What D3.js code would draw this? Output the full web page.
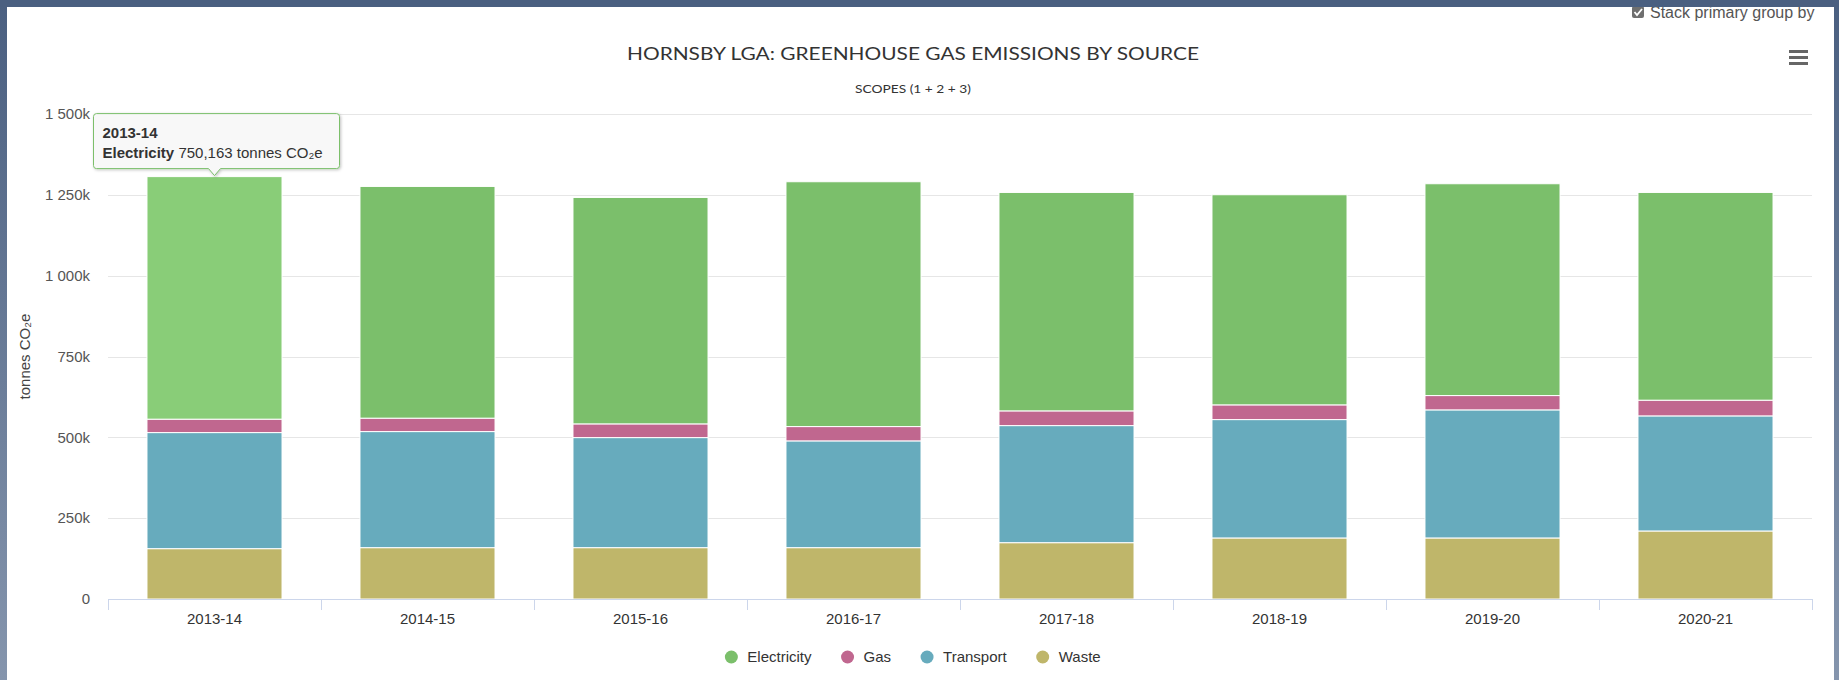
<!DOCTYPE html>
<html>
<head>
<meta charset="utf-8">
<script src="https://cdn.jsdelivr.net/npm/d3@7"></script>
<style>
  html, body { margin: 0; padding: 0; }
  body { width: 1839px; height: 680px; overflow: hidden; background: #4b6081; }
  svg { display: block; }
</style>
</head>
<body>
<div id="chart"></div>
<script>

// data
var categories = ["2013-14", "2014-15", "2015-16", "2016-17", "2017-18", "2018-19", "2019-20", "2020-21"];
var electricity = [750163, 716700, 700300, 757200, 675600, 649900, 655100, 642500];
var gas = [41500, 41500, 42400, 44300, 45500, 45500, 44300, 48600];
var transport = [359000, 359000, 340400, 330200, 362100, 366100, 396100, 355900];
var waste = [155700, 158800, 158800, 158800, 174200, 188800, 188800, 210400];
var yTicks = [0, 250000, 500000, 750000, 1000000, 1250000, 1500000];
var seriesNames = ["Electricity", "Gas", "Transport", "Waste"];
var hovered = {category: "2013-14", series: "Electricity"};

//Config
var W = 1839, H = 680;
var plotLeft = 108, plotRight = 1812, plotTop = 114, plotBottom = 599;
var centerX = 913;
var colors = {Electricity: "#7bbf6b", Gas: "#c0678f", Transport: "#67abbd", Waste: "#bfb66a"};
var hoverColors = {Electricity: "#89cd78", Gas: "#cc77a0", Transport: "#77bbcc", Waste: "#cdc57a"};
var font = "'Liberation Sans', Arial, sans-serif";

var rows = categories.map(function(c, i) {
  return {cat: c, Electricity: electricity[i], Gas: gas[i], Transport: transport[i], Waste: waste[i]};
});

var svg = d3.select("#chart").append("svg")
  .attr("width", W)
  .attr("height", H);

var defs = svg.append("defs");
var grad = defs.append("linearGradient").attr("id", "bg").attr("x1", 0).attr("y1", 0).attr("x2", 0).attr("y2", 1);
grad.append("stop").attr("offset", "0%").attr("stop-color", "#4a5f80");
grad.append("stop").attr("offset", "100%").attr("stop-color", "#8595ad");
var shadow = defs.append("filter").attr("id", "shadow").attr("x", "-10%").attr("y", "-10%").attr("width", "130%").attr("height", "150%");
shadow.append("feDropShadow").attr("dx", 1).attr("dy", 1).attr("stdDeviation", 1.5).attr("flood-color", "#000").attr("flood-opacity", 0.25);

svg.append("rect").attr("width", W).attr("height", H).attr("fill", "url(#bg)");
svg.append("rect").attr("x", 7).attr("y", 0).attr("width", 1827).attr("height", H).attr("fill", "#ffffff");

var x = d3.scaleBand()
  .domain(categories)
  .range([plotLeft, plotRight])
  .paddingInner(0.366)
  .paddingOuter(0.183);

var y = d3.scaleLinear()
  .domain([0, 1500000])
  .range([plotBottom, plotTop]);

var loc = d3.formatLocale({decimal: ".", thousands: " ", grouping: [3], currency: ["", ""]});
var fmtK = function(v) { return v === 0 ? "0" : loc.format(",")(v / 1000) + "k"; };

// gridlines
svg.append("g").selectAll("line")
  .data(yTicks.filter(function(d) { return d > 0; }))
  .enter().append("line")
  .attr("x1", plotLeft).attr("x2", plotRight)
  .attr("y1", function(d) { return Math.round(y(d)) + 0.5; })
  .attr("y2", function(d) { return Math.round(y(d)) + 0.5; })
  .attr("stroke", "#e6e6e6")
  .attr("stroke-width", 1);

// y axis labels
var yAxis = svg.append("g")
  .attr("transform", "translate(" + plotLeft + ",0)")
  .call(d3.axisLeft(y).tickValues(yTicks).tickSize(0).tickPadding(18).tickFormat(fmtK));
yAxis.select(".domain").remove();
yAxis.selectAll("text")
  .attr("font-family", font)
  .attr("font-size", "15px")
  .attr("fill", "#555");

svg.append("text")
  .attr("transform", "translate(30," + ((plotTop + plotBottom) / 2) + ") rotate(-90)")
  .attr("text-anchor", "middle")
  .attr("font-family", font)
  .attr("font-size", "15px")
  .attr("fill", "#444")
  .text("tonnes CO₂e");

// stacked bars
var stack = d3.stack().keys(["Waste", "Transport", "Gas", "Electricity"]);
var layers = stack(rows);

svg.append("g").selectAll("g")
  .data(layers)
  .enter().append("g")
  .each(function(layer) {
    d3.select(this).selectAll("rect")
      .data(layer)
      .enter().append("rect")
      .attr("x", function(d) { return x(d.data.cat); })
      .attr("width", x.bandwidth())
      .attr("y", function(d) { return y(d[1]); })
      .attr("height", function(d) { return y(d[0]) - y(d[1]); })
      .attr("fill", function(d) {
        if (d.data.cat == hovered.category && layer.key == hovered.series) return hoverColors[layer.key];
        return colors[layer.key];
      })
      .attr("stroke", "#ffffff")
      .attr("stroke-width", 1);
  });

// x axis
svg.append("line")
  .attr("x1", plotLeft).attr("x2", plotRight)
  .attr("y1", plotBottom + 0.5).attr("y2", plotBottom + 0.5)
  .attr("stroke", "#ccd6eb");
svg.append("g").selectAll("line")
  .data(d3.range(categories.length + 1))
  .enter().append("line")
  .attr("x1", function(i) { return Math.round(plotLeft + i * x.step()) + 0.5; })
  .attr("x2", function(i) { return Math.round(plotLeft + i * x.step()) + 0.5; })
  .attr("y1", plotBottom).attr("y2", plotBottom + 11)
  .attr("stroke", "#ccd6eb");

var xAxis = svg.append("g")
  .attr("transform", "translate(0," + plotBottom + ")")
  .call(d3.axisBottom(x).tickSize(0).tickPadding(14));
xAxis.select(".domain").remove();
xAxis.selectAll("text")
  .attr("font-family", font)
  .attr("font-size", "15px")
  .attr("fill", "#333");

// titles
svg.append("text")
  .attr("x", centerX).attr("y", 60)
  .attr("text-anchor", "middle")
  .attr("font-family", "Lato, 'Open Sans', sans-serif")
  .attr("font-size", "18px")
  .attr("fill", "#333")
  .attr("textLength", 572)
  .attr("lengthAdjust", "spacingAndGlyphs")
  .text("HORNSBY LGA: GREENHOUSE GAS EMISSIONS BY SOURCE");

svg.append("text")
  .attr("x", centerX).attr("y", 93)
  .attr("text-anchor", "middle")
  .attr("font-family", "Lato, 'Open Sans', sans-serif")
  .attr("font-size", "12px")
  .attr("fill", "#333")
  .attr("textLength", 116)
  .attr("lengthAdjust", "spacingAndGlyphs")
  .text("SCOPES (1 + 2 + 3)");

// legend
var legend = svg.append("g");
var items = legend.selectAll("g")
  .data(seriesNames)
  .enter().append("g");
items.append("circle")
  .attr("r", 6.5)
  .attr("fill", function(d) { return colors[d]; });
items.append("text")
  .attr("x", 16)
  .attr("dy", "0.35em")
  .attr("font-family", font)
  .attr("font-size", "15px")
  .attr("fill", "#333")
  .text(function(d) { return d; });
var pos = 0, offsets = [];
items.each(function() {
  offsets.push(pos);
  pos += 16 + d3.select(this).select("text").node().getComputedTextLength() + 36;
});
var legendWidth = pos - 36 + 6;
items.attr("transform", function(d, i) {
  return "translate(" + (centerX - legendWidth / 2 + 6 + offsets[i]) + ",657)";
});

// tooltip on the hovered point
var hi = categories.indexOf(hovered.category);
var ax = x(hovered.category) + x.bandwidth() / 2;
var ay = y(rows[hi].Electricity + rows[hi].Gas + rows[hi].Transport + rows[hi].Waste);
var bw = 246, bh = 55;
var bx = ax - 121, by = ay - 8 - bh;
var tip = svg.append("g").attr("transform", "translate(" + bx + "," + by + ")");
tip.append("path")
  .attr("d", "M 3 0 L " + (bw - 3) + " 0 Q " + bw + " 0 " + bw + " 3 L " + bw + " " + (bh - 3) +
    " Q " + bw + " " + bh + " " + (bw - 3) + " " + bh + " L " + (ax - bx + 6) + " " + bh +
    " L " + (ax - bx) + " " + (bh + 7) + " L " + (ax - bx - 6) + " " + bh +
    " L 3 " + bh + " Q 0 " + bh + " 0 " + (bh - 3) + " L 0 3 Q 0 0 3 0 Z")
  .attr("fill", "rgba(249,249,249,0.96)")
  .attr("stroke", colors[hovered.series])
  .attr("stroke-width", 1)
  .attr("filter", "url(#shadow)");
tip.append("text")
  .attr("x", 9).attr("y", 24)
  .attr("font-family", font)
  .attr("font-size", "15px")
  .attr("font-weight", "bold")
  .attr("fill", "#333")
  .text(hovered.category);
var line2 = tip.append("text")
  .attr("x", 9).attr("y", 44)
  .attr("font-family", font)
  .attr("font-size", "15px")
  .attr("fill", "#333");
line2.append("tspan").attr("font-weight", "bold").text(hovered.series);
line2.append("tspan").text(" " + d3.format(",")(rows[hi][hovered.series]) + " tonnes CO₂e");

// export menu icon
svg.append("g").selectAll("rect")
  .data([0, 1, 2])
  .enter().append("rect")
  .attr("x", 1789).attr("width", 19)
  .attr("y", function(d) { return 50 + d * 6; })
  .attr("height", 3)
  .attr("fill", "#666");

// "Stack primary group by" control, cut by the page band
svg.append("rect")
  .attr("x", 1632).attr("y", 6).attr("width", 12).attr("height", 12).attr("rx", 2)
  .attr("fill", "#6f6f6f");
svg.append("path")
  .attr("d", "M1634.5 12 L1637 15 L1642 9")
  .attr("fill", "none").attr("stroke", "#fff").attr("stroke-width", 1.8);
svg.append("text")
  .attr("x", 1650).attr("y", 18)
  .attr("font-family", font)
  .attr("font-size", "16px")
  .attr("fill", "#555")
  .text("Stack primary group by");

svg.append("rect").attr("x", 0).attr("y", 0).attr("width", W).attr("height", 7).attr("fill", "#4a5f80");

</script>
</body>
</html>
